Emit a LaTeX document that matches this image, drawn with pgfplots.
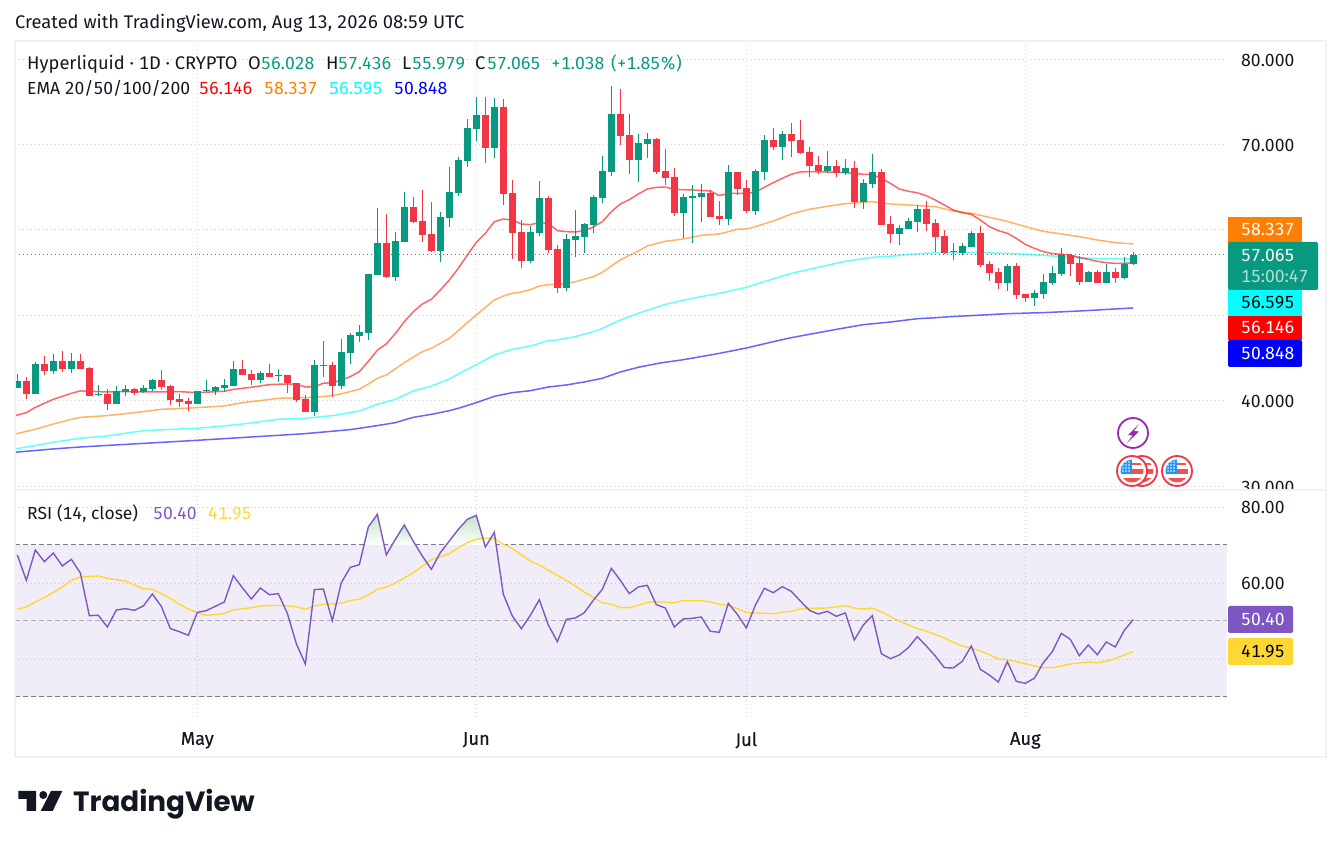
\documentclass[border=0pt]{standalone}
\usepackage{fontspec}
\usepackage{pgfplots}
\usepackage{pgfplotstable}
\pgfplotsset{compat=1.18}
\setmainfont[Numbers={Monospaced,Lining}]{Fira Sans}
\newfontfamily\logofont{Poppins}
\newfontfamily\medfont[FakeBold=0.35]{Fira Sans}

\definecolor{tvup}{HTML}{089981}
\definecolor{tvdown}{HTML}{F23645}
\definecolor{tvink}{HTML}{131722}
\definecolor{tvgrid}{HTML}{D1D4DC}
\definecolor{tvframe}{HTML}{EFF1F5}
\definecolor{rsipurple}{HTML}{7E57C2}
\definecolor{rsiyellow}{HTML}{FDD835}
\definecolor{tvdash}{HTML}{787B86}
\definecolor{tvorange}{HTML}{FF8000}
\definecolor{tvcyan}{HTML}{00FFFF}
\definecolor{tvblue}{HTML}{0000FF}
\definecolor{tvred}{HTML}{FF0000}
\definecolor{obgreen}{HTML}{C4E4C8}
\definecolor{timer}{HTML}{B5DDD5}
\definecolor{boltpurple}{HTML}{9C27B0}
\definecolor{flagblue}{HTML}{2196F3}
\definecolor{flagred}{HTML}{EF5350}

\newcommand{\tvsize}{\fontsize{18.3}{22}\selectfont}
\newcommand{\numsize}{\fontsize{17.5}{21}\selectfont}

% day number (1 May = 0), open, high, low, close
\pgfplotstableread{
d o h l c
-20 41.48 43.12 41.48 42.30
-18 40.78 44.48 40.78 44.29
-16 43.47 45.46 43.12 44.64
-14 43.70 45.58 43.24 44.64
-11 40.66 41.83 40.54 40.78
-9 39.61 41.71 39.61 41.13
-8 41.01 41.83 40.54 41.36
-6 41.01 41.83 40.89 41.48
-5 41.36 42.53 41.13 42.42
0 39.61 41.13 39.61 41.13
1 41.13 42.42 41.01 41.24
2 41.13 41.71 40.66 41.60
3 41.48 42.53 41.01 41.83
4 41.71 44.64 41.71 43.70
7 42.42 43.47 42.06 43.24
9 42.92 43.70 42.18 43.00
13 38.67 44.76 38.20 44.17
14 44.05 46.98 42.77 44.17
16 41.71 47.22 41.36 45.69
17 45.57 47.88 44.29 47.68
18 47.56 48.85 46.86 48.03
19 47.92 54.82 47.10 54.82
20 54.71 62.55 54.71 58.45
22 54.47 59.74 54.01 58.69
23 58.57 64.43 58.57 62.67
27 57.52 62.08 56.23 61.50
28 61.38 67.35 60.33 64.43
29 64.31 68.52 63.96 68.17
30 68.06 72.97 67.35 71.92
31 71.80 75.55 70.40 73.44
33 69.58 75.43 68.41 74.38
37 56.35 60.44 56.11 59.74
38 59.63 65.71 59.27 63.72
41 53.19 59.51 52.83 58.92
42 58.81 62.32 56.82 59.27
43 59.16 60.80 57.28 60.68
44 60.56 64.07 59.63 63.84
45 63.72 68.64 63.14 66.88
46 66.77 76.84 66.30 73.56
49 68.17 71.22 65.60 70.16
50 70.05 71.34 68.41 70.63
54 61.97 64.19 59.04 63.84
55 63.73 65.25 58.46 63.96
56 63.80 65.37 60.92 64.31
59 61.27 67.59 60.56 66.77
62 62.20 67.12 61.74 66.89
63 66.77 71.10 65.83 70.52
65 69.70 71.57 68.18 71.22
70 66.89 69.23 66.65 67.47
72 66.65 68.29 66.42 67.24
74 63.26 65.95 62.44 65.48
75 65.37 68.88 64.90 66.77
78 59.51 60.56 58.22 60.21
79 60.10 61.38 60.10 61.03
80 60.92 62.91 59.74 62.44
85 57.28 58.45 57.01 58.10
86 57.99 59.86 57.99 59.63
90 53.77 56.00 52.83 55.76
93 52.01 52.95 51.08 52.60
94 52.48 54.82 51.90 53.89
95 53.77 55.76 53.54 54.94
96 54.82 57.87 54.59 57.05
99 53.89 55.18 53.89 55.06
101 53.77 56.00 53.77 55.06
103 54.36 56.81 54.24 56.00
104 56.028 57.436 55.979 57.065
}\upcandles

\pgfplotstableread{
d o h l c
-19 42.30 42.77 40.19 40.78
-17 44.29 45.23 43.00 43.47
-15 44.64 45.81 43.35 43.70
-13 44.64 45.46 43.70 43.70
-12 43.82 43.94 40.54 40.54
-10 40.78 41.36 38.90 39.61
-7 41.36 41.48 40.66 40.89
-4 42.42 43.59 41.24 41.60
-3 41.71 41.83 39.49 40.07
-2 40.19 40.78 39.25 39.84
-1 39.96 40.31 38.79 39.61
5 43.70 44.76 43.00 43.00
6 43.12 43.59 41.83 42.42
8 43.24 44.29 42.77 42.77
10 43.00 43.00 40.89 42.06
11 42.06 42.06 39.84 40.07
12 40.19 40.66 38.67 38.67
15 44.17 44.52 40.42 41.71
21 58.45 61.85 54.36 54.47
24 62.67 63.84 60.80 60.91
25 61.03 64.66 58.57 59.39
26 59.51 63.26 57.40 57.52
32 73.44 75.55 67.82 69.58
34 74.38 75.32 62.90 64.19
35 64.31 65.83 56.58 59.63
36 59.74 61.15 55.53 56.35
39 63.72 63.96 57.28 57.63
40 57.75 58.22 52.60 53.19
47 73.56 76.49 69.93 70.98
48 71.10 73.56 66.53 68.17
51 70.63 70.75 66.54 66.77
52 66.89 69.46 65.25 66.07
53 66.18 67.24 61.62 61.97
57 64.31 64.66 61.50 61.50
58 61.62 63.37 60.56 61.27
60 66.77 66.77 64.08 64.78
61 64.90 65.83 61.97 62.20
64 70.52 71.92 69.35 69.70
66 71.22 72.51 68.53 70.40
67 70.52 72.86 68.88 69.00
68 69.11 69.70 66.18 67.47
69 67.59 68.64 66.54 66.89
71 67.47 68.18 66.18 66.65
73 67.24 68.06 62.56 63.26
76 66.77 67.12 60.56 60.56
77 60.68 61.62 58.46 59.51
81 62.44 63.37 59.86 60.68
82 60.80 61.26 57.40 59.16
83 59.27 59.98 57.17 57.28
84 57.52 58.45 56.46 57.36
87 59.63 60.44 55.64 55.88
88 56.00 56.35 54.00 54.94
89 55.06 55.53 53.07 53.77
91 55.76 56.11 51.90 52.37
92 52.48 52.48 51.55 52.01
97 57.05 57.17 54.59 56.00
98 56.11 56.93 53.54 53.89
100 55.06 55.29 53.77 53.77
102 55.06 55.53 53.77 54.36
}\downcandles

\pgfplotstableread{
d v
-20 67.37
-19 60.70
-18 68.68
-17 65.61
-16 67.89
-15 64.47
-14 66.23
-13 62.63
-12 51.40
-11 51.49
-10 48.42
-9 52.89
-8 53.24
-7 52.81
-6 53.95
-5 57.10
-4 53.86
-3 47.98
-2 47.19
-1 46.23
0 52.28
1 52.72
2 53.86
3 55.00
4 61.93
5 58.77
6 55.79
7 58.68
8 56.93
9 57.19
10 52.02
11 44.03
12 38.68
13 58.25
14 58.42
15 50.09
16 60.09
17 64.12
18 64.82
19 74.74
20 78.07
21 67.37
22 71.49
23 75.26
24 70.96
25 67.10
26 63.60
27 67.98
28 71.05
29 74.12
30 76.75
31 77.81
32 69.47
33 73.33
34 57.02
35 51.32
36 47.98
37 51.49
38 55.61
39 48.95
40 44.56
41 50.44
42 50.79
43 52.19
44 55.44
45 58.33
46 63.86
47 60.70
48 57.19
49 58.95
50 59.39
51 54.30
52 53.42
53 48.42
54 50.53
55 50.70
56 51.05
57 47.28
58 47.02
59 54.65
60 51.75
61 48.16
62 54.12
63 58.60
64 57.46
65 59.03
66 57.81
67 55.26
68 52.81
69 51.84
70 52.54
71 51.23
72 52.11
73 44.99
74 48.95
75 51.40
76 41.40
77 40.09
78 41.05
79 42.98
80 45.88
81 43.42
82 40.79
83 37.72
84 37.63
85 39.40
86 43.42
87 37.28
88 35.79
89 33.95
90 39.30
91 34.12
92 33.60
93 34.91
94 39.03
95 41.93
96 46.75
97 45.17
98 40.88
99 43.68
100 41.14
101 44.47
102 43.16
103 47.54
104 50.40
}\rsitable

\newcommand{\flagicon}[2]{%
  \fill[white] (#1,#2) circle (15);
  \draw[tvdown,line width=1.8pt] (#1,#2) circle (15);
  \begin{scope}
    \clip (#1,#2) circle (11.5);
    \fill[white] (#1-12,#2-12) rectangle (#1+12,#2+12);
    \fill[flagred] (#1-12,#2+7) rectangle (#1+12,#2+12);
    \fill[flagred] (#1,#2-2) rectangle (#1+12,#2+3);
    \fill[flagred] (#1,#2-8) rectangle (#1+12,#2-6);
    \fill[flagblue] (#1-12,#2-12) rectangle (#1,#2+3);
    \foreach \i in {-9,-6,-3} \foreach \j in {-9,-6,-3,0}
      \fill[white] (#1+\i,#2+\j) circle (0.8);
  \end{scope}
}

\begin{document}
\begin{tikzpicture}
\useasboundingbox (0,0) rectangle (1341pt,848pt);

% price pane
\begin{axis}[
  at={(15pt,358pt)}, anchor=south west,
  scale only axis, width=1212pt, height=449pt,
  xmin=-20.26, xmax=114.41, ymin=29.532, ymax=82.108,
  axis line style={draw=none}, major tick length=0pt,
  xtick={0,31,61,92}, xticklabels={},
  ytick={30,40,50,60,70,80},
  yticklabels={30.000,40.000,,,70.000,80.000},
  yticklabel pos=right,
  yticklabel style={font=\numsize, text=tvink, anchor=west, inner sep=0pt, xshift=14pt, yshift=-1pt},
  grid=major,
  grid style={tvgrid, line width=0.9pt, dash pattern=on 1pt off 3pt},
]
\addplot[tvup, line width=0.9pt, dash pattern=on 1pt off 3pt] coordinates {(-20.26,57.065) (114.41,57.065)};

% EMA 200
\addplot[tvblue, opacity=0.6, line width=1.5pt] coordinates {
(-20.25,33.95) (-16,34.34) (-13,34.57) (-6,34.99) (0,35.35) (6,35.74) (12,36.13) (17,36.60)
(20,37.07) (22,37.42) (24,38.04) (26,38.39) (28,38.82) (29,39.10) (31,39.76) (33,40.50)
(35,40.93) (37,41.16) (39,41.59) (41,41.83) (43,42.18) (45,42.61) (47,43.35) (49,43.90)
(51.4,44.40) (54,44.79) (57,45.34) (58,45.53) (61,46.16) (64,46.90) (66,47.37) (68,47.76)
(71,48.34) (74,48.89) (77,49.20) (80,49.59) (82,49.70) (84,49.85) (86,49.95) (90,50.18)
(94,50.30) (98,50.49) (102,50.73) (104,50.848)};
% EMA 100
\addplot[tvcyan, opacity=0.6, line width=1.5pt] coordinates {
(-20.25,34.34) (-18,34.73) (-16,35.12) (-13,35.59) (-10,35.86) (-8,36.17) (-6,36.48) (0,36.76)
(3,37.03) (6,37.38) (9,37.81) (12,37.93) (15,38.24) (18,38.78) (20,39.56) (22,40.15)
(24,41.12) (26,41.71) (28,42.53) (29,43.12) (30,43.66) (31,44.21) (33,45.34) (35,46.00)
(37,46.39) (39,47.02) (40,47.10) (42,47.49) (44,48.07) (45,48.46) (47,49.44) (49,50.22)
(52,51.27) (55,51.98) (58,52.56) (61,53.27) (63,53.93) (66,54.90) (69,55.61) (72,56.31)
(75,56.78) (78,56.97) (79,57.13) (82,57.32) (86,57.36) (90,57.24) (94,57.01) (98,56.74)
(100,56.62) (102,56.58) (104,56.595)};
% EMA 50
\addplot[tvorange, opacity=0.6, line width=1.5pt] coordinates {
(-20.25,36.09) (-18,36.64) (-16,37.26) (-14,37.81) (-13,38.04) (-10,38.24) (-8,38.47) (-6,38.71)
(-4,38.98) (-2,39.06) (0,39.18) (3,39.37) (5,39.76) (7,40.00) (9,40.27) (11,40.31) (13,40.39)
(15,40.58) (16,40.80) (18,41.32) (19,41.94) (20,42.61) (21,43.00) (23,44.44) (25,45.73) (26,46.12)
(28,47.29) (29,48.19) (30,49.13) (31,50.02) (32,50.92) (33,51.78) (34,52.25) (35,52.56) (36,52.72)
(37,52.99) (38,53.42) (39,53.58) (41,53.69) (42,53.93) (44,54.51) (45,55.02) (46,55.76) (47,56.46)
(48,57.01) (49,57.52) (50,58.11) (52,58.65) (54,58.92) (56,59.35) (58,59.51) (60,60.06) (61,60.10)
(62,60.37) (64,61.03) (66,61.85) (68,62.40) (70,62.75) (72,63.06) (74,63.22) (75,63.30) (77,63.02)
(79,62.91) (82,62.71) (84,62.20) (86,61.93) (88,61.46) (90,60.99) (92,60.37) (94,59.82) (96,59.51)
(98,59.20) (100,58.81) (102,58.49) (104,58.337)};
% EMA 20
\addplot[tvred, opacity=0.6, line width=1.5pt] coordinates {
(-20.25,38.24) (-19,38.59) (-18,39.21) (-16,40.15) (-14,40.85) (-13,41.13) (-12,41.09) (-10,41.01)
(-8,41.05) (-4,41.01) (-2,41.05) (0,40.93) (3,41.09) (4,41.32) (6,41.56) (8,41.87) (10,41.95)
(11,41.91) (12,41.60) (13,41.63) (14,42.03) (15,42.10) (16,42.40) (17,42.81) (18,43.39) (19,44.60)
(20,45.90) (21,46.65) (22,47.85) (23,49.24) (24,50.41) (25,51.31) (26,51.86) (27,52.95) (28,54.12)
(29,55.49) (30,57.05) (31,58.53) (32,59.59) (33,60.95) (34,61.26) (35,61.15) (36,60.68) (37,60.60)
(38,60.84) (39,60.76) (40,59.90) (41,59.78) (42,59.74) (43,59.90) (44,60.33) (45,60.95) (46,62.12)
(47,63.02) (48,63.53) (49,64.19) (50,64.78) (51,64.97) (52,65.01) (53,64.74) (55,64.66) (57,64.55)
(58,64.00) (59,64.27) (61,64.27) (62,64.39) (63,64.97) (64,65.52) (65,66.03) (66,66.50) (67,66.77)
(68,66.81) (70,66.77) (72,66.69) (74,66.50) (75,66.46) (76,66.03) (77,65.44) (78,64.78) (79,64.51)
(80,64.33) (81,63.98) (82,63.49) (83,62.90) (84,62.32) (85,62.00) (86,61.81) (87,61.15) (88,60.37)
(89,59.90) (90,59.59) (91,59.00) (92,58.30) (93,57.83) (94,57.44) (95,57.21) (96,57.13) (97,57.05)
(98,56.74) (99,56.54) (100,56.31) (101,56.15) (102,56.07) (103,56.07) (104,56.146)};

% candles: wicks, then bodies
\addplot[draw=none, mark=none, error bars/.cd, y dir=both, y explicit, error mark=none,
  error bar style={tvup, line width=1pt}]
  table[x=d, y=o, y error plus expr=\thisrow{h}-\thisrow{o}, y error minus expr=\thisrow{o}-\thisrow{l}] {\upcandles};
\addplot[draw=none, mark=none, error bars/.cd, y dir=plus, y explicit, error mark=none,
  error bar style={tvup, line width=7pt}]
  table[x=d, y=o, y error plus expr=\thisrow{c}-\thisrow{o}] {\upcandles};
\addplot[draw=none, mark=none, error bars/.cd, y dir=both, y explicit, error mark=none,
  error bar style={tvdown, line width=1pt}]
  table[x=d, y=c, y error plus expr=\thisrow{h}-\thisrow{c}, y error minus expr=\thisrow{c}-\thisrow{l}] {\downcandles};
\addplot[draw=none, mark=none, error bars/.cd, y dir=plus, y explicit, error mark=none,
  error bar style={tvdown, line width=7pt}]
  table[x=d, y=c, y error plus expr=\thisrow{o}-\thisrow{c}] {\downcandles};
\end{axis}

\fill[white] (1228pt,352pt) rectangle (1325pt,358pt);

% RSI pane
\begin{axis}[
  at={(15pt,131pt)}, anchor=south west,
  scale only axis, width=1212pt, height=226pt,
  xmin=-20.26, xmax=114.41, ymin=24.737, ymax=84.21,
  axis line style={draw=none}, major tick length=0pt,
  xtick={0,31,61,92}, xticklabels={May,Jun,Jul,Aug},
  xticklabel style={font=\medfont\tvsize, text=tvink, inner sep=0pt, yshift=-15pt},
  ytick={40,60,80}, yticklabels={,60.00,80.00},
  yticklabel pos=right,
  yticklabel style={font=\numsize, text=tvink, anchor=west, inner sep=0pt, xshift=14pt},
  grid=major,
  grid style={tvgrid, line width=0.9pt, dash pattern=on 1pt off 3pt},
]
\addplot[fill=rsipurple, fill opacity=0.11, draw=none] coordinates {(-20.26,30) (114.41,30) (114.41,70) (-20.26,70)};
\addplot[tvdash, line width=1pt, dash pattern=on 5pt off 3pt] coordinates {(-20.26,70) (114.41,70)};
\addplot[tvdash, opacity=0.55, line width=1pt, dash pattern=on 5pt off 3pt] coordinates {(-20.26,50) (114.41,50)};
\addplot[tvdash, line width=1pt, dash pattern=on 5pt off 3pt] coordinates {(-20.26,30) (114.41,30)};

% above 70
\addplot[draw=none, shade, top color=obgreen, bottom color=white] coordinates {(18.52,70) (19,74.74) (20,78.07) (20.75,70)};
\addplot[draw=none, shade, top color=obgreen, bottom color=white] coordinates {(21.64,70) (22,71.49) (23,75.26) (24,70.96) (24.25,70)};
\addplot[draw=none, shade, top color=obgreen, bottom color=white] coordinates {(27.66,70) (28,71.05) (29,74.12) (30,76.75) (31,77.81) (31.94,70)};
\addplot[draw=none, shade, top color=obgreen, bottom color=white] coordinates {(32.14,70) (33,73.33) (33.2,70)};

% RSI average
\addplot[rsiyellow, line width=1.4pt] coordinates {
(-20,53.07) (-19,53.68) (-18,55.00) (-17,56.14) (-16,57.54) (-15,58.95) (-14,60.70) (-13,61.58)
(-11,61.84) (-10,61.23) (-8,60.53) (-7,59.47) (-6,58.51) (-5,58.33) (-4,57.19) (-3,55.96) (-2,54.39)
(-1,53.16) (0,52.19) (1,51.49) (3,51.93) (4,52.89) (6,53.51) (7,53.95) (9,54.12) (11,53.77) (12,53.07)
(13,53.95) (14,54.39) (16,54.65) (17,55.44) (18,55.70) (19,56.84) (20,58.33) (21,58.95) (22,60.00)
(23,61.32) (24,62.72) (25,64.39) (26,66.14) (27,66.93) (28,67.72) (29,69.30) (30,70.61) (31,71.49)
(32,71.84) (33,71.75) (34,70.18) (35,69.12) (36,67.37) (37,65.79) (38,64.74) (39,63.33) (40,62.02)
(41,60.70) (42,59.21) (43,57.63) (44,56.14) (45,54.82) (46,54.39) (47,53.51) (48,53.51) (49,54.12)
(50,54.91) (51,55.09) (53,54.82) (54,55.35) (56,55.35) (57,55.00) (58,54.39) (59,54.12) (60,53.25)
(61,52.28) (62,52.11) (64,51.93) (65,52.37) (66,52.54) (67,53.16) (68,53.33) (70,53.42) (72,54.03)
(73,53.42) (74,53.16) (75,53.42) (76,52.46) (77,51.14) (78,50.00) (79,48.95) (80,48.07) (82,46.49)
(83,45.53) (84,44.40) (85,43.42) (86,42.81) (87,42.11) (88,41.14) (89,40.00) (90,39.82) (92,38.77)
(93,38.16) (94,37.72) (95,37.72) (96,38.16) (97,38.68) (99,39.21) (100,39.04) (101,39.47) (102,40.09)
(103,41.05) (104,41.95)};
\addplot[rsipurple, line width=1.4pt] table[x=d, y=v] {\rsitable};
\end{axis}

% text, frame and price tags, in picture pixels
\begin{scope}[x=1pt, y=-1pt, shift={(0pt,848pt)}]
  \draw[tvframe, line width=2pt] (15,41) rectangle (1326,757);
  \draw[tvframe, line width=2pt] (15,490) -- (1326,490);

  \tikzset{t/.style={anchor=mid west, inner sep=0pt, yshift=-3pt, font=\tvsize, text=tvink},
           n/.style={t, font=\numsize}}
  \node[t] at (15,23) {Created with TradingView.com, Aug 13, 2026 08:59 UTC};
  \node[t] at (27,64) {Hyperliquid · 1D · CRYPTO};
  \node[t] at (248,64) {O};
  \node[n,text=tvup] at (261,64) {56.028};
  \node[t] at (326,64) {H};
  \node[n,text=tvup] at (338,64) {57.436};
  \node[t] at (402,64) {L};
  \node[n,text=tvup] at (412,64) {55.979};
  \node[t] at (475,64) {C};
  \node[n,text=tvup] at (487,64) {57.065};
  \node[n,text=tvup] at (551,64) {+1.038};
  \node[n,text=tvup] at (611,64) {(+1.85\%)};
  \node[n] at (27,89) {EMA 20/50/100/200};
  \node[n,text=tvred] at (199,89) {56.146};
  \node[n,text=tvorange] at (264,89) {58.337};
  \node[n,text=tvcyan] at (329,89) {56.595};
  \node[n,text=tvblue] at (394,89) {50.848};
  \node[n] at (27,514) {RSI (14, close)};
  \node[n,text=rsipurple] at (153,514) {50.40};
  \node[n,text=rsiyellow] at (208,514) {41.95};

  % price tags
  \fill[tvorange] (1228,217) rectangle (1302,243);
  \node[n,text=white] at (1241,230) {58.337};
  \fill[tvcyan] (1228,289) rectangle (1302,316);
  \node[n,text=black] at (1241,303) {56.595};
  \fill[tvred] (1228,316) rectangle (1302,340);
  \node[n,text=white] at (1241,328) {56.146};
  \fill[tvblue,rounded corners=1.5] (1228,340) rectangle (1302,367);
  \node[n,text=white] at (1241,354) {50.848};
  \fill[tvup,rounded corners=1.5] (1228,242) rectangle (1318,290);
  \node[n,text=white] at (1241,256) {57.065};
  \node[n,text=timer] at (1241,277) {15:00:47};
  \fill[rsipurple,rounded corners=1.5] (1228,606) rectangle (1293,633);
  \node[n,text=white] at (1241,620) {50.40};
  \fill[rsiyellow,rounded corners=1.5] (1228,638) rectangle (1293,665);
  \node[n,text=black] at (1241,652) {41.95};

  % event markers
  \draw[boltpurple, line width=1.8pt, fill=white] (1133,433) circle (15);
  \fill[boltpurple] (1139,424) -- (1128,435) -- (1132.5,435.5) -- (1127,443) -- (1139,431.5) -- (1134,431) -- cycle;
  \flagicon{1142}{471}
  \flagicon{1132}{471}
  \flagicon{1177}{471}

  % logo
  \fill[tvink] (18.3,791) -- (36,791) -- (36,811) -- (26.7,811) -- (26.7,799) -- (18.3,799) -- cycle;
  \fill[tvink] (43.3,795) circle (4);
  \fill[tvink] (51,791) -- (62.3,791) -- (52.7,811) -- (40.7,811) -- cycle;
  \node[anchor=base west, inner sep=0pt, text=tvink, font=\logofont\bfseries\fontsize{27.8}{32}\selectfont] at (73,812) {TradingView};
\end{scope}
\end{tikzpicture}
\end{document}
